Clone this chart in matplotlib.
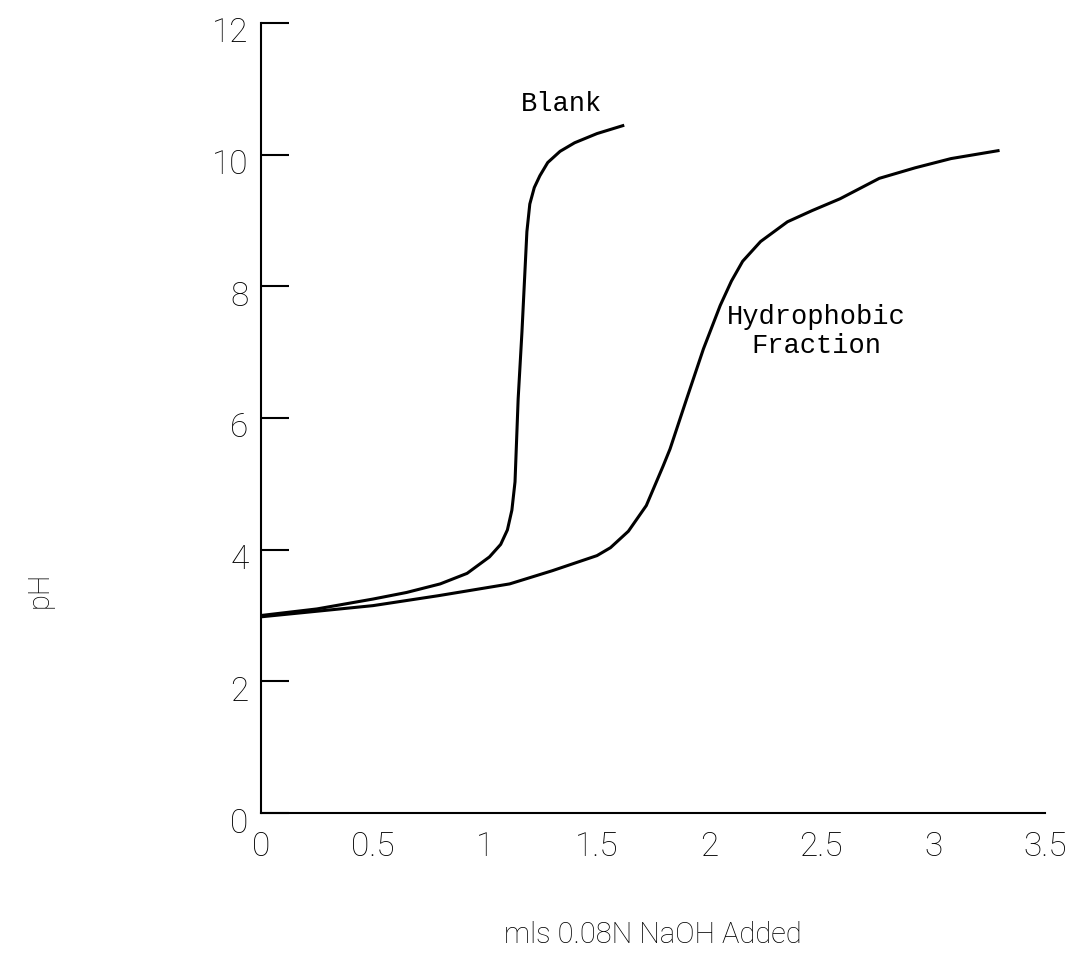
import matplotlib
matplotlib.use("Agg")
import matplotlib.pyplot as plt
from matplotlib.transforms import ScaledTranslation

# titration curves
blank_x = [0.0, 0.25, 0.5, 0.65, 0.8, 0.92, 1.02, 1.07, 1.10, 1.12, 1.134, 1.148,
           1.165, 1.187, 1.20, 1.22, 1.245, 1.28, 1.335, 1.40, 1.50, 1.615]
blank_y = [3.0, 3.1, 3.25, 3.35, 3.48, 3.64, 3.89, 4.08, 4.30, 4.60, 5.03, 6.29,
           7.31, 8.83, 9.25, 9.50, 9.68, 9.88, 10.05, 10.18, 10.32, 10.44]

hydro_x = [0.0, 0.5, 0.79, 1.11, 1.3, 1.5, 1.56, 1.64, 1.72, 1.795, 1.826, 1.90,
           1.975, 2.05, 2.10, 2.15, 2.23, 2.35, 2.46, 2.585, 2.76, 2.92, 3.08, 3.29]
hydro_y = [2.98, 3.15, 3.30, 3.48, 3.68, 3.91, 4.03, 4.28, 4.67, 5.27, 5.53, 6.29,
           7.05, 7.71, 8.08, 8.38, 8.68, 8.98, 9.15, 9.33, 9.64, 9.80, 9.94, 10.06]

xticks = [0, 0.5, 1, 1.5, 2, 2.5, 3, 3.5]
xticklabels = ["0", "0.5", "1", "1.5", "2", "2.5", "3", "3.5"]
yticks = [0, 2, 4, 6, 8, 10, 12]

fig = plt.figure(figsize=(10.73, 9.70), dpi=100)
ax = fig.add_axes([0.2432, 0.1608, 0.7308, 0.8145])

ax.plot(blank_x, blank_y, color="black", lw=2.2)
ax.plot(hydro_x, hydro_y, color="black", lw=2.2)

ax.set_xlim(0, 3.5)
ax.set_ylim(0, 12)
for s in ["top", "right"]:
    ax.spines[s].set_visible(False)
for s in ["left", "bottom"]:
    ax.spines[s].set_linewidth(1.5)

tick_font = dict(family="Roboto", size=24, weight="light")
ax.set_xticks(xticks)
ax.set_xticklabels(xticklabels, fontdict=tick_font)
ax.set_yticks(yticks)
ax.set_yticklabels([str(v) for v in yticks], fontdict=tick_font)
ax.tick_params(axis="x", length=0, pad=12)
ax.tick_params(axis="y", direction="in", length=20, width=1.5, pad=9)
shift = ScaledTranslation(0, -0.06, fig.dpi_scale_trans)
for lab in ax.get_yticklabels():
    lab.set_transform(lab.get_transform() + shift)

mono = dict(family="Liberation Mono", size=19.5)
ax.text(1.34, 10.78, "Blank", ha="center", va="center", **mono)
ax.text(2.48, 7.33, "Hydrophobic\nFraction", ha="center", va="center",
        linespacing=1.15, **mono)

fig.text(0.6085, 1 - 935 / 970, "mls 0.08N NaOH Added", ha="center", va="center",
         family="Roboto", size=21, weight="light")
fig.text(40 / 1073, 1 - 590 / 970, "pH", ha="center", va="center", rotation=90,
         family="Roboto", size=21, weight="light")

fig.savefig("out.png", dpi=100, facecolor="white")
